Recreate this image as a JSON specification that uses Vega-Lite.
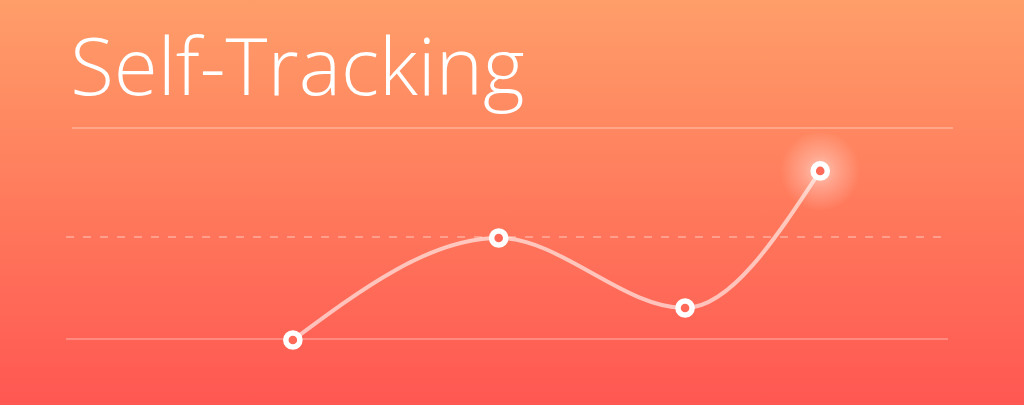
{
  "$schema": "https://vega.github.io/schema/vega-lite/v6.json",
  "width": 1024,
  "height": 405,
  "padding": 0,
  "autosize": {"type": "fit", "contains": "padding"},
  "background": "#FF7A5C",
  "config": {
    "view": {
      "stroke": null,
      "fill": {"gradient": "linear", "x1": 0, "y1": 0, "x2": 0, "y2": 1,
        "stops": [{"offset": 0, "color": "#FF9E69"}, {"offset": 0.5, "color": "#FF7A5C"}, {"offset": 1, "color": "#FF5752"}]}
    }
  },
  "datasets": {
    "points": [
      {"t": 28.6, "v": -0.5},
      {"t": 48.7, "v": 49.5},
      {"t": 66.9, "v": 15.2},
      {"t": 80.1, "v": 82.4}
    ],
    "rules": [
      {"t": 7.03, "t2": 93.07, "v": 103.4, "kind": "top"},
      {"t": 6.45, "t2": 92.09, "v": 50, "kind": "mid"},
      {"t": 6.45, "t2": 92.58, "v": 0, "kind": "base"}
    ],
    "label": [{"t": 6.85, "v": 119.6, "text": "Self-Tracking"}],
    "glow": [{"t": 80.1, "v": 82.4}]
  },
  "encoding": {
    "x": {"field": "t", "type": "quantitative", "scale": {"domain": [0, 100], "nice": false, "zero": false}, "axis": null},
    "y": {"field": "v", "type": "quantitative", "scale": {"domain": [-32.35, 166.2], "nice": false, "zero": false}, "axis": null}
  },
  "layer": [
    {
      "data": {"name": "rules"},
      "transform": [{"filter": "datum.kind != 'mid'"}],
      "mark": {"type": "rule", "stroke": "#FFFFFF", "strokeOpacity": 0.25, "strokeWidth": 2},
      "encoding": {"x2": {"field": "t2"}}
    },
    {
      "data": {"name": "rules"},
      "transform": [{"filter": "datum.kind == 'mid'"}],
      "mark": {"type": "rule", "stroke": "#FFFFFF", "strokeOpacity": 0.3, "strokeWidth": 2, "strokeDash": [8, 9]},
      "encoding": {"x2": {"field": "t2"}}
    },
    {
      "data": {"name": "glow"},
      "mark": {"type": "point", "shape": "circle", "filled": true, "size": 6500, "opacity": 1,
        "fill": {"gradient": "radial", "x1": 0.5, "y1": 0.5, "r1": 0, "x2": 0.5, "y2": 0.5, "r2": 0.5,
          "stops": [{"offset": 0, "color": "rgba(255,255,255,0.55)"}, {"offset": 0.4, "color": "rgba(255,255,255,0.28)"}, {"offset": 1, "color": "rgba(255,255,255,0)"}]},
        "strokeWidth": 0}
    },
    {
      "data": {"name": "label"},
      "mark": {"type": "text", "align": "left", "baseline": "alphabetic", "font": "Open Sans", "fontWeight": 300, "fontSize": 80, "color": "#FFFFFF"},
      "encoding": {"text": {"field": "text"}}
    },
    {
      "data": {"name": "points"},
      "mark": {"type": "line", "interpolate": "monotone", "stroke": "#FFFFFF", "strokeOpacity": 0.6, "strokeWidth": 4}
    },
    {
      "data": {"name": "points"},
      "mark": {"type": "point", "shape": "circle", "filled": false, "size": 200, "fill": "#FF6957", "fillOpacity": 1, "stroke": "#FFFFFF", "strokeWidth": 5.5, "opacity": 1}
    }
  ]
}
